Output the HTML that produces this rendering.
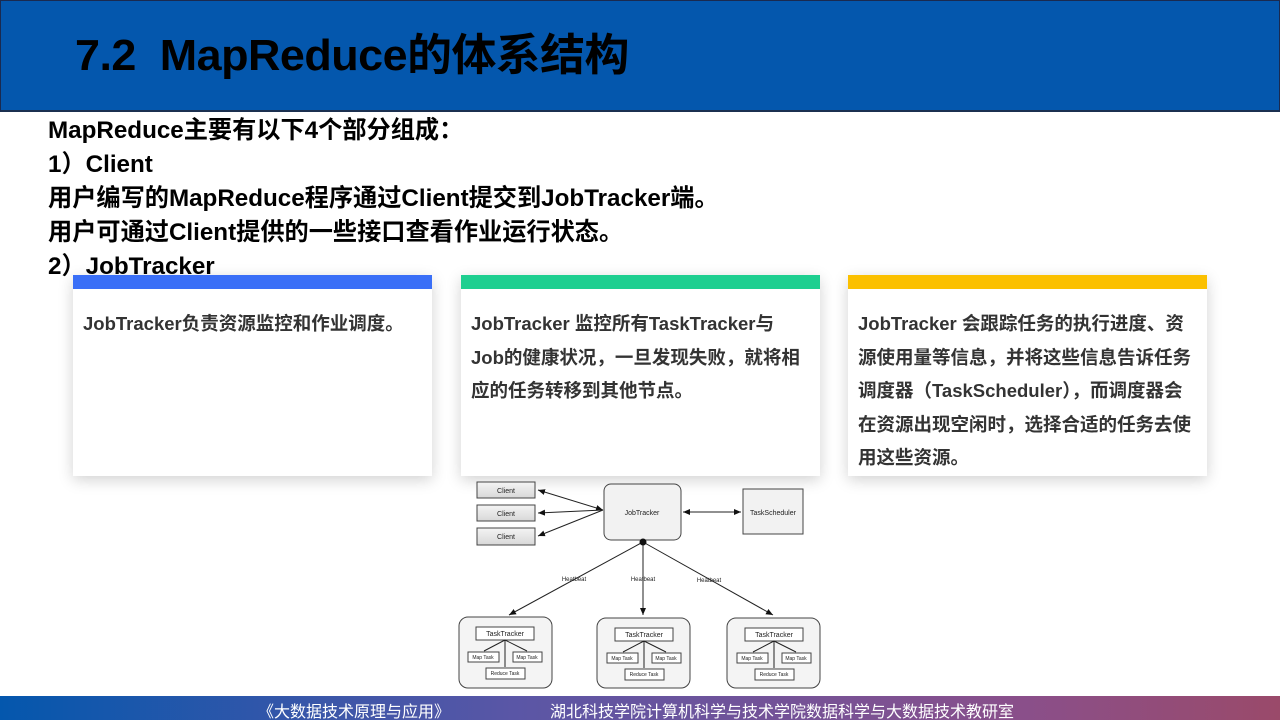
<!DOCTYPE html>
<html><head><meta charset="utf-8">
<style>
*{margin:0;padding:0;box-sizing:border-box}
body{width:1280px;height:720px;overflow:hidden;background:#fff;position:relative;font-family:"Liberation Sans","Noto Sans CJK SC",sans-serif}
.title{position:absolute;left:0;top:0;width:1280px;height:112px;background:#0457ad;border:1px solid #1a2a50;border-bottom:2px solid #1b3050}
.title h1{position:absolute;left:74px;top:18px;font-size:44px;font-weight:bold;color:#000;letter-spacing:-0.5px;transform:scaleX(1.02);transform-origin:left}
.body{position:absolute;left:48px;top:114px;font-size:24.2px;font-weight:bold;color:#000;line-height:34px}
.card{position:absolute;top:275px;height:201px;width:359px;background:#fff;box-shadow:0 4px 14px rgba(0,0,0,0.18)}
.card .bar{height:14px}
.card p{padding:18px 19px 0 10px;font-size:18.5px;font-weight:bold;color:#333;line-height:33.5px}
.footer{position:absolute;left:0;top:696px;width:1280px;height:24px;background:linear-gradient(90deg,#0457ad,#5a56a6 40%,#8a4f8a 80%,#9a4a6a)}
.footer span{position:absolute;top:2px;color:#fff;font-size:16px}
</style></head><body>
<div class="title"><h1>7.2&nbsp; MapReduce的体系结构</h1></div>
<div class="body">
MapReduce主要有以下4个部分组成：<br>
1）Client<br>
用户编写的MapReduce程序通过Client提交到JobTracker端。<br>
用户可通过Client提供的一些接口查看作业运行状态。<br>
2）JobTracker
</div>
<div class="card" style="left:73px"><div class="bar" style="background:#3a6ff7"></div><p>JobTracker负责资源监控和作业调度。</p></div>
<div class="card" style="left:461px"><div class="bar" style="background:#1ecf90"></div><p>JobTracker 监控所有TaskTracker与Job的健康状况，一旦发现失败，就将相应的任务转移到其他节点。</p></div>
<div class="card" style="left:848px"><div class="bar" style="background:#fbc000"></div><p style="padding-right:8px">JobTracker 会跟踪任务的执行进度、资源使用量等信息，并将这些信息告诉任务调度器（TaskScheduler），而调度器会在资源出现空闲时，选择合适的任务去使用这些资源。</p></div>

<svg style="position:absolute;left:0;top:0" width="1280" height="720" font-family="Liberation Sans,sans-serif">
<defs>
<marker id="a" markerWidth="8" markerHeight="8" refX="7" refY="4" orient="auto-start-reverse" markerUnits="userSpaceOnUse"><path d="M0,1 L7,4 L0,7z" fill="#111"/></marker>
<linearGradient id="g" x1="0" y1="0" x2="0" y2="1"><stop offset="0" stop-color="#f4f4f4"/><stop offset="1" stop-color="#d8d8d8"/></linearGradient>
</defs>
<g stroke="#444" fill="url(#g)" stroke-width="1">
<rect x="477" y="482" width="58" height="16"/>
<rect x="477" y="505" width="58" height="16"/>
<rect x="477" y="528" width="58" height="17"/>
<rect x="604" y="484" width="77" height="56" rx="7" fill="#f2f2f2"/>
<rect x="743" y="489" width="60" height="45" fill="#f2f2f2"/>
<rect x="459" y="617" width="93" height="71" rx="9" fill="#f4f4f4"/>
<rect x="597" y="618" width="93" height="70" rx="9" fill="#f4f4f4"/>
<rect x="727" y="618" width="93" height="70" rx="9" fill="#f4f4f4"/>
</g>
<g stroke="#222" stroke-width="1" fill="none">
<line x1="603" y1="510" x2="538" y2="490" marker-start="url(#a)" marker-end="url(#a)"/>
<line x1="603" y1="510" x2="538" y2="513" marker-end="url(#a)"/>
<line x1="603" y1="510" x2="538" y2="536" marker-end="url(#a)"/>
<line x1="683" y1="512" x2="741" y2="512" marker-start="url(#a)" marker-end="url(#a)"/>
<line x1="643" y1="542" x2="509" y2="615" marker-end="url(#a)"/>
<line x1="643" y1="542" x2="643" y2="615" marker-end="url(#a)"/>
<line x1="643" y1="542" x2="773" y2="615" marker-end="url(#a)"/>
</g>
<circle cx="643" cy="542" r="3.5" fill="#111"/>
<g font-size="7" fill="#222" text-anchor="middle">
<text x="506" y="493">Client</text><text x="506" y="516">Client</text><text x="506" y="539">Client</text>
<text x="642" y="515">JobTracker</text><text x="773" y="515">TaskScheduler</text>
<text x="574" y="581" font-size="6">Heatbeat</text><text x="643" y="581" font-size="6">Heatbeat</text><text x="709" y="582" font-size="6">Heatbeat</text>
</g>
<g font-size="7" fill="#222" text-anchor="middle" stroke-width="1">
<g transform="translate(0,0)">
<rect x="476" y="627" width="58" height="13" fill="#fff" stroke="#444"/><text x="505" y="636">TaskTracker</text>
<rect x="468" y="652" width="31" height="10" fill="#fff" stroke="#444"/><text x="483" y="659" font-size="5">Map Task</text>
<rect x="513" y="652" width="29" height="10" fill="#fff" stroke="#444"/><text x="527" y="659" font-size="5">Map Task</text>
<rect x="486" y="668" width="39" height="11" fill="#fff" stroke="#444"/><text x="505" y="675" font-size="5">Reduce Task</text>
<path d="M505,640 L484,651 M505,640 L527,651 M505,640 L505,667" stroke="#222" fill="none"/>
</g>
<g transform="translate(139,1)">
<rect x="476" y="627" width="58" height="13" fill="#fff" stroke="#444"/><text x="505" y="636">TaskTracker</text>
<rect x="468" y="652" width="31" height="10" fill="#fff" stroke="#444"/><text x="483" y="659" font-size="5">Map Task</text>
<rect x="513" y="652" width="29" height="10" fill="#fff" stroke="#444"/><text x="527" y="659" font-size="5">Map Task</text>
<rect x="486" y="668" width="39" height="11" fill="#fff" stroke="#444"/><text x="505" y="675" font-size="5">Reduce Task</text>
<path d="M505,640 L484,651 M505,640 L527,651 M505,640 L505,667" stroke="#222" fill="none"/>
</g>
<g transform="translate(269,1)">
<rect x="476" y="627" width="58" height="13" fill="#fff" stroke="#444"/><text x="505" y="636">TaskTracker</text>
<rect x="468" y="652" width="31" height="10" fill="#fff" stroke="#444"/><text x="483" y="659" font-size="5">Map Task</text>
<rect x="513" y="652" width="29" height="10" fill="#fff" stroke="#444"/><text x="527" y="659" font-size="5">Map Task</text>
<rect x="486" y="668" width="39" height="11" fill="#fff" stroke="#444"/><text x="505" y="675" font-size="5">Reduce Task</text>
<path d="M505,640 L484,651 M505,640 L527,651 M505,640 L505,667" stroke="#222" fill="none"/>
</g>
</g>
</svg>
<div class="footer"><span style="left:258px">《大数据技术原理与应用》</span><span style="left:550px">湖北科技学院计算机科学与技术学院数据科学与大数据技术教研室</span></div>
</body></html>
